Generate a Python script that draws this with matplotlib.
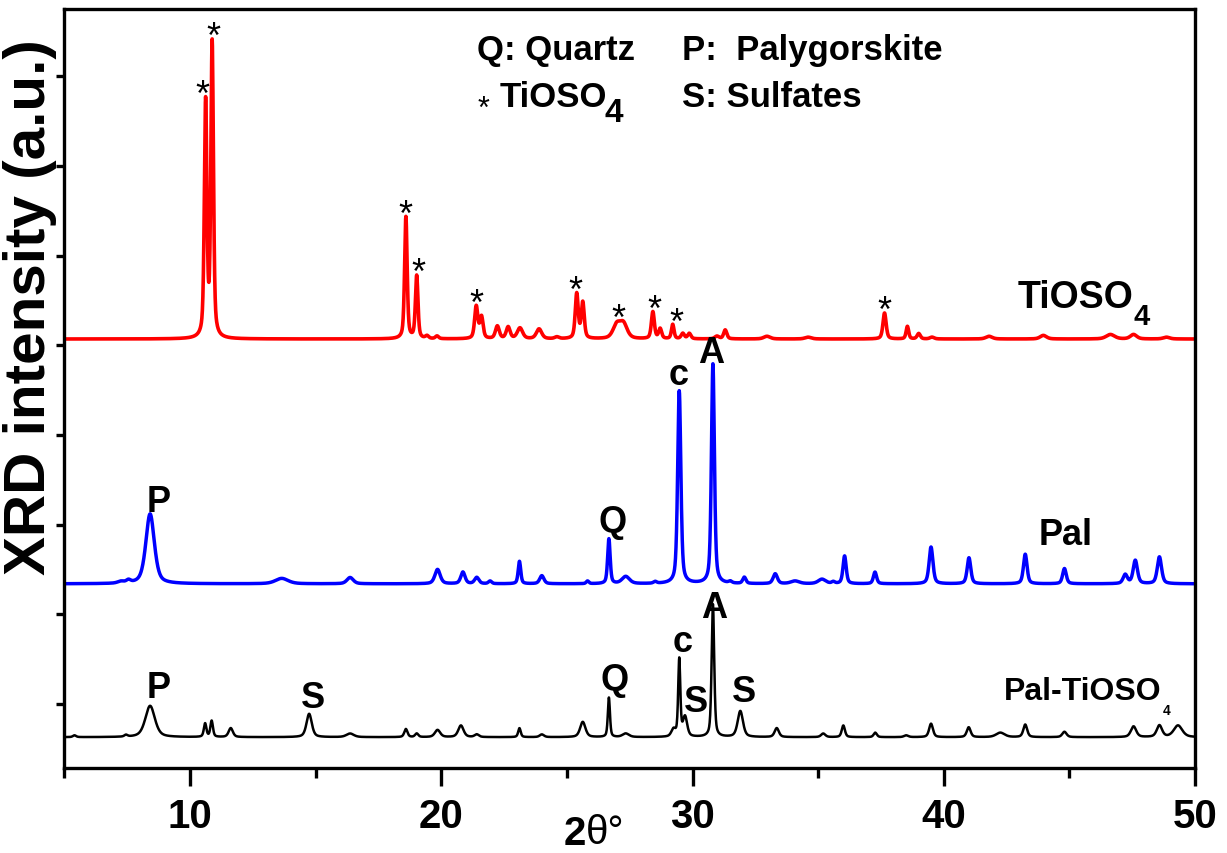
import matplotlib.pyplot as plt
import numpy as np

plt.rcParams['font.family'] = ['Liberation Sans', 'DejaVu Sans']
plt.rcParams['font.weight'] = 'bold'

# Peak tables: 2theta position, height (1 = one y tick step), FWHM
# TiOSO4 (red)
ti_pos = [10.62, 10.88, 18.59, 19.02, 19.43, 19.83, 21.39, 21.60, 22.23, 22.66, 23.13, 23.89,
          24.60, 25.39, 25.63, 26.98, 27.25, 28.42, 28.71, 29.21, 29.61, 29.87, 30.97, 31.30,
          32.96, 34.60, 37.64, 38.55, 39.00, 39.53, 41.80, 43.96, 46.63, 47.55, 48.86]
ti_hgt = [2.62, 3.28, 1.36, 0.70, 0.03, 0.03, 0.36, 0.24, 0.14, 0.13, 0.12, 0.11,
          0.02, 0.50, 0.40, 0.15, 0.16, 0.30, 0.11, 0.16, 0.06, 0.06, 0.03, 0.10,
          0.03, 0.02, 0.29, 0.14, 0.06, 0.02, 0.03, 0.04, 0.05, 0.05, 0.02]
ti_wid = [0.12, 0.12, 0.12, 0.12, 0.15, 0.15, 0.15, 0.15, 0.18, 0.18, 0.25, 0.25,
          0.20, 0.14, 0.14, 0.35, 0.35, 0.14, 0.14, 0.12, 0.15, 0.15, 0.20, 0.15,
          0.30, 0.30, 0.15, 0.12, 0.15, 0.20, 0.30, 0.30, 0.40, 0.30, 0.30]
ti_base = 5.07

# Pal (blue)
pal_pos = [7.25, 7.55, 8.41, 13.65, 16.37, 19.85, 20.86, 21.41, 21.94, 23.11, 24.00, 25.82,
           26.67, 27.34, 28.51, 29.47, 30.81, 31.50, 32.06, 33.29, 34.08, 35.15, 35.60, 36.05,
           37.26, 39.49, 41.00, 43.24, 44.80, 47.22, 47.62, 48.58]
pal_hgt = [0.02, 0.03, 0.78, 0.06, 0.07, 0.16, 0.13, 0.07, 0.03, 0.25, 0.09, 0.03,
           0.50, 0.08, 0.02, 2.15, 2.45, 0.02, 0.07, 0.11, 0.03, 0.05, 0.02, 0.31,
           0.13, 0.41, 0.29, 0.33, 0.17, 0.10, 0.26, 0.30]
pal_wid = [0.30, 0.20, 0.40, 0.60, 0.30, 0.25, 0.20, 0.20, 0.15, 0.12, 0.20, 0.12,
           0.12, 0.35, 0.15, 0.15, 0.14, 0.15, 0.15, 0.20, 0.40, 0.35, 0.15, 0.15,
           0.15, 0.18, 0.17, 0.17, 0.17, 0.20, 0.20, 0.20]
pal_base = 2.34

# Pal-TiOSO4 (black)
mix_pos = [5.40, 7.45, 8.41, 10.60, 10.86, 11.62, 14.74, 16.37, 18.59, 19.02, 19.85, 20.78,
           21.41, 23.11, 24.00, 25.63, 26.67, 27.34, 29.24, 29.47, 29.70, 30.81, 31.90, 33.35,
           35.20, 36.00, 37.27, 38.50, 39.49, 40.99, 42.25, 43.24, 44.80, 47.55, 48.58, 49.32]
mix_hgt = [0.02, 0.02, 0.35, 0.15, 0.18, 0.10, 0.26, 0.04, 0.09, 0.04, 0.08, 0.13,
           0.03, 0.10, 0.03, 0.17, 0.44, 0.04, 0.08, 0.86, 0.22, 1.48, 0.29, 0.10,
           0.04, 0.13, 0.05, 0.02, 0.15, 0.11, 0.05, 0.14, 0.06, 0.12, 0.13, 0.13]
mix_wid = [0.15, 0.15, 0.45, 0.12, 0.12, 0.20, 0.25, 0.35, 0.15, 0.15, 0.25, 0.25,
           0.20, 0.12, 0.20, 0.25, 0.10, 0.30, 0.20, 0.10, 0.20, 0.12, 0.25, 0.20,
           0.20, 0.15, 0.15, 0.20, 0.18, 0.18, 0.40, 0.18, 0.20, 0.25, 0.25, 0.40]
mix_base = 0.63

# peaks marked with * on the TiOSO4 pattern
star_peaks = [10.62, 10.88, 18.59, 19.02, 21.39, 25.39, 27.10, 28.42, 29.21, 37.64]
star_shift = [-0.14, 0.04, 0.0, 0.06, 0.02, -0.06, -0.06, 0.05, 0.13, 0.0]

x_ticks = [10, 20, 30, 40, 50]

two_theta = np.linspace(5, 50, 4501)


def pattern(pos, hgt, wid, base):
    y = np.full_like(two_theta, base)
    for p, h, w in zip(pos, hgt, wid):
        d = (two_theta - p) / w
        lor = 1 / (1 + 4 * d ** 2)
        gau = np.exp(-4 * np.log(2) * d ** 2)
        y += h * (0.5 * lor + 0.5 * gau)
    return y


y_ti = pattern(ti_pos, ti_hgt, ti_wid, ti_base)
y_pal = pattern(pal_pos, pal_hgt, pal_wid, pal_base)
y_mix = pattern(mix_pos, mix_hgt, mix_wid, mix_base)

fig = plt.figure(figsize=(12.27, 8.54), dpi=100)
ax = fig.add_axes([0.0525, 0.0995, 0.9215, 0.8888])

ax.plot(two_theta, y_ti, color='#ff0000', lw=2.6)
ax.plot(two_theta, y_pal, color='#0000ff', lw=2.5)
ax.plot(two_theta, y_mix, color='black', lw=1.8)

ax.set_xlim(5, 50)
ax.set_ylim(0.286, 8.75)
ax.set_xticks(x_ticks)
ax.set_xticks([5, 15, 25, 35, 45], minor=True)
ax.set_yticks(range(1, 9))
for s in ax.spines.values():
    s.set_linewidth(2.4)
ax.tick_params(axis='x', which='major', length=13, width=2.4, labelsize=29, pad=8)
ax.tick_params(axis='x', which='minor', length=7, width=2.4)
ax.tick_params(axis='y', length=6, width=2.4, labelleft=False)

ax.set_ylabel('XRD intensity (a.u.)', fontsize=42, fontweight='bold', va='center')
ax.yaxis.set_label_coords(-0.030, 0.609)

# x label: bold 2, plain theta and degree sign
t2 = ax.text(24.85, -0.56, '2', fontsize=29, fontweight='bold', ha='left', va='baseline',
             clip_on=False)
ax.annotate('θ°', xy=(1, 0), xycoords=t2, xytext=(0, 0.212 * 29), textcoords='offset points',
            fontsize=29, fontweight='normal', ha='left', va='baseline')

# stars above TiOSO4 peaks
fs_star = 26
for p, sh in zip(star_peaks, star_shift):
    win = np.abs(two_theta - p) < 0.12
    top = y_ti[win].max()
    ax.annotate('*', xy=(p + sh, top), xytext=(0, 9 - 0.575 * fs_star), textcoords='offset points',
                fontsize=fs_star, fontweight='normal', ha='center', va='baseline')

# phase letters
letters = [('P', 8.73, 3.15), ('Q', 26.80, 2.93), ('c', 29.43, 4.57), ('A', 30.74, 4.81),
           ('P', 8.73, 1.08), ('S', 14.90, 0.97), ('Q', 26.88, 1.17), ('c', 29.59, 1.59),
           ('S', 30.14, 0.92), ('A', 30.86, 1.97), ('S', 32.05, 1.03)]
for txt, lx, ly in letters:
    ax.text(lx, ly, txt, fontsize=26, fontweight='bold', ha='center', va='baseline')


def with_sub4(x, y, main, size, sub_size, dx, drop):
    t = ax.text(x, y, main, fontsize=size, fontweight='bold', ha='left', va='baseline')
    ax.annotate('4', xy=(1, 0), xycoords=t, xytext=(dx, 0.212 * size - drop),
                textcoords='offset points', fontsize=sub_size, fontweight='bold',
                ha='left', va='baseline')


# sample names
with_sub4(42.92, 5.43, 'TiOSO', 27, 21, 0, 12.2)
ax.text(43.76, 2.78, 'Pal', fontsize=26, fontweight='bold', ha='left', va='baseline')
with_sub4(42.37, 1.06, 'Pal-TiOSO', 23, 10, 1, 10.8)

# key
ax.text(21.42, 8.19, 'Q: Quartz', fontsize=25, fontweight='bold', ha='left', va='baseline')
ax.text(29.58, 8.19, 'P:  Palygorskite', fontsize=25, fontweight='bold', ha='left', va='baseline')
ax.annotate('*', xy=(21.66, 7.74), xytext=(0, -0.575 * 22), textcoords='offset points',
            fontsize=22, fontweight='normal', ha='center', va='baseline')
with_sub4(22.34, 7.67, 'TiOSO', 25, 24, -2, 11.5)
ax.text(29.58, 7.67, 'S: Sulfates', fontsize=25, fontweight='bold', ha='left', va='baseline')

fig.savefig('out.png', dpi=100)
